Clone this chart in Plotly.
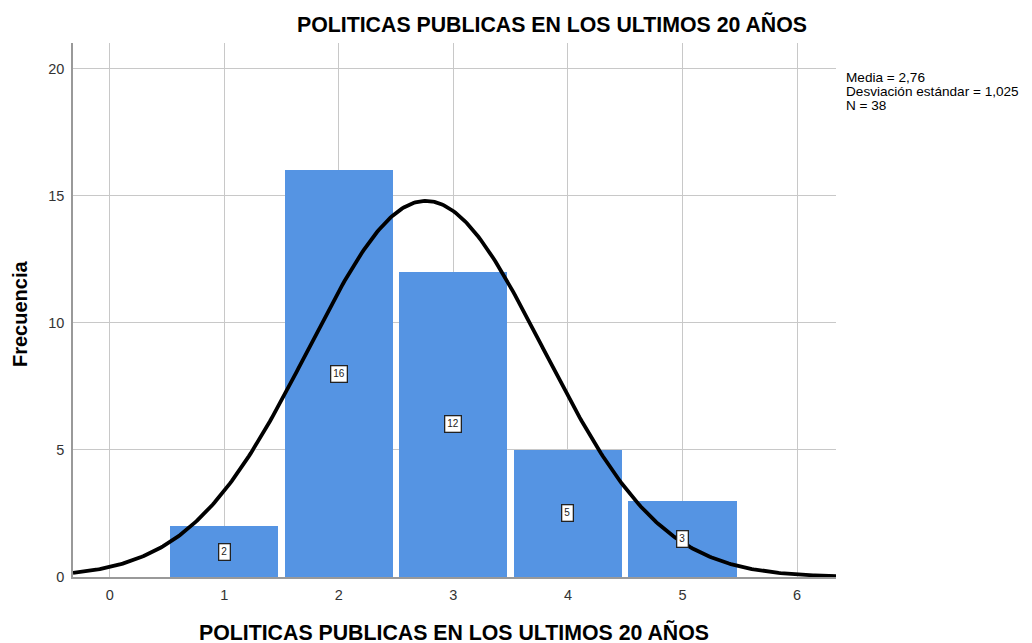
import numpy as np
import plotly.graph_objects as go

categories = [1, 2, 3, 4, 5]
frequencies = [2, 16, 12, 5, 3]
mean_val = 2.76
std_val = 1.025
n_val = 38
title_text = "POLITICAS PUBLICAS EN LOS ULTIMOS 20 AÑOS"
stats_lines = ["Media = 2,76", "Desviación estándar = 1,025", "N = 38"]

FONT = "Liberation Sans, Arial, sans-serif"
W, H = 1032, 643
OFF = 8  # page body margin
L, R, T, B = 73 - OFF, W - (836 - OFF), 43 - OFF, H - (577 - OFF)
PW, PH = W - L - R, H - T - B

def px_x(sx):
    return (sx - OFF - L) / PW

def px_y(sy):
    return 1 - (sy - OFF - T) / PH

fig = go.Figure()
fig.add_trace(go.Bar(
    x=categories, y=frequencies, width=0.945,
    marker=dict(color="#5594e3", line=dict(width=0)),
    hoverinfo="x+y", showlegend=False,
))

xs = np.linspace(-0.32, 6.34, 400)
pdf = n_val * 1.0 / (std_val * np.sqrt(2 * np.pi)) * np.exp(-0.5 * ((xs - mean_val) / std_val) ** 2)
fig.add_trace(go.Scatter(x=xs, y=pdf, mode="lines",
                         line=dict(color="black", width=3.8), showlegend=False))

for c, f in zip(categories, frequencies):
    fig.add_annotation(x=c, y=f / 2, text=str(f), showarrow=False,
                       font=dict(size=10, color="#222", family=FONT),
                       bgcolor="white", bordercolor="#222", borderwidth=1.3, borderpad=2)

for i, line in enumerate(stats_lines):
    fig.add_annotation(xref="paper", yref="paper", x=px_x(844), y=px_y(77 + 14.5 * i),
                       xanchor="left", yanchor="middle",
                       text=line, showarrow=False, align="left",
                       font=dict(size=13.6, color="black", family=FONT))

fig.add_annotation(xref="paper", yref="paper", x=px_x(552), y=px_y(24),
                   xanchor="center", yanchor="middle", showarrow=False,
                   text="<b>" + title_text + "</b>",
                   font=dict(size=21.3, color="black", family=FONT))
fig.add_annotation(xref="paper", yref="paper", x=px_x(454), y=px_y(632),
                   xanchor="center", yanchor="middle", showarrow=False,
                   text="<b>" + title_text + "</b>",
                   font=dict(size=21.3, color="black", family=FONT))
fig.add_annotation(xref="paper", yref="paper", x=px_x(20), y=px_y(314),
                   xanchor="center", yanchor="middle", showarrow=False, textangle=-90,
                   text="<b>Frecuencia</b>",
                   font=dict(size=20, color="black", family=FONT))

fig.update_layout(
    width=W, height=H,
    margin=dict(l=L, r=R, t=T, b=B, autoexpand=False),
    paper_bgcolor="white", plot_bgcolor="white",
    font=dict(family=FONT),
    xaxis=dict(range=[-0.32, 6.34], tickmode="array", tickvals=[0, 1, 2, 3, 4, 5, 6],
               showgrid=True, gridcolor="#c8c8c8", gridwidth=1, zeroline=False,
               showline=True, linecolor="#999999", linewidth=1.5, automargin=False,
               ticks="outside", ticklen=4, tickcolor="rgba(0,0,0,0)",
               tickfont=dict(size=14.5, color="#333")),
    yaxis=dict(range=[0, 21.0], tickmode="array", tickvals=[0, 5, 10, 15, 20],
               showgrid=True, gridcolor="#c8c8c8", gridwidth=1, zeroline=False,
               showline=True, linecolor="#999999", linewidth=1.5, automargin=False,
               ticks="outside", ticklen=4, tickcolor="rgba(0,0,0,0)",
               tickfont=dict(size=14.5, color="#333")),
    bargap=0,
)

fig.write_html("out.html")
